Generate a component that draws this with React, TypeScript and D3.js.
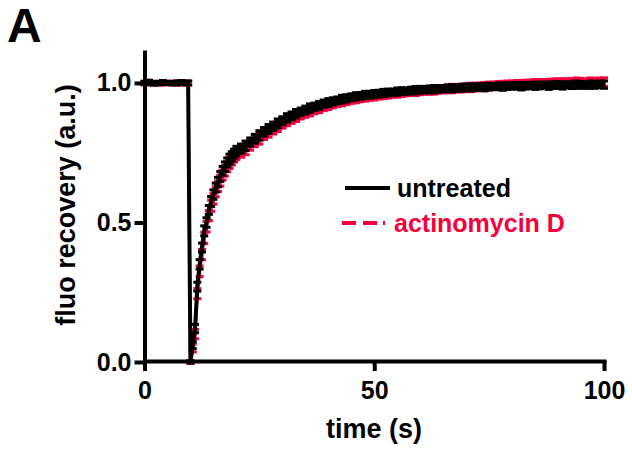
import * as d3 from "d3";
import React, { useEffect, useRef } from "react";

// time points (s)
const times = [
  0, 1, 2, 3, 4, 5, 6, 7, 8, 9, 9.5,
  10, 10.5, 11, 11.5, 12, 12.5, 13, 13.5, 14, 14.5, 15, 15.5, 16, 16.5, 17, 17.5, 18, 18.5, 19, 19.5, 20,
  21, 22, 23, 24, 25, 26, 27, 28, 29, 30,
  31, 32, 33, 34, 35, 36, 37, 38, 39, 40,
  41, 42, 43, 44, 45, 46, 47, 48, 49, 50,
  51, 52, 53, 54, 55, 56, 57, 58, 59, 60,
  61, 62, 63, 64, 65, 66, 67, 68, 69, 70,
  71, 72, 73, 74, 75, 76, 77, 78, 79, 80,
  81, 82, 83, 84, 85, 86, 87, 88, 89, 90,
  91, 92, 93, 94, 95, 96, 97, 98, 99, 100,
];

const untreated = [
  1.0, 1.003, 0.998, 1.0, 1.002, 1.0, 0.999, 1.0, 1.003, 1.0, 1.0,
  0.0, 0.06, 0.12, 0.27, 0.35, 0.41, 0.47, 0.5, 0.545, 0.575, 0.6, 0.625, 0.645, 0.665, 0.685, 0.7, 0.715, 0.727, 0.737, 0.747, 0.756,
  0.765, 0.775, 0.788, 0.8, 0.812, 0.825, 0.835, 0.845, 0.855, 0.865,
  0.875, 0.882, 0.89, 0.897, 0.903, 0.91, 0.915, 0.92, 0.926, 0.93,
  0.934, 0.938, 0.942, 0.945, 0.949, 0.952, 0.954, 0.957, 0.958, 0.96,
  0.962, 0.964, 0.966, 0.967, 0.969, 0.971, 0.971, 0.973, 0.974, 0.976,
  0.976, 0.977, 0.978, 0.979, 0.98, 0.981, 0.981, 0.982, 0.983, 0.984,
  0.984, 0.985, 0.986, 0.985, 0.987, 0.987, 0.988, 0.987, 0.989, 0.989,
  0.99, 0.988, 0.99, 0.991, 0.99, 0.991, 0.992, 0.99, 0.992, 0.993,
  0.991, 0.993, 0.992, 0.994, 0.993, 0.992, 0.994, 0.993, 0.995, 0.994,
];

const untreatedErr = [
  0.006, 0.007, 0.006, 0.006, 0.007, 0.006, 0.006, 0.007, 0.006, 0.006, 0.007,
  0.004, 0.012, 0.015, 0.016, 0.017, 0.016, 0.018, 0.017, 0.016, 0.018, 0.017, 0.016, 0.017, 0.018, 0.016, 0.017, 0.016, 0.018, 0.017, 0.016, 0.017,
  0.016, 0.017, 0.015, 0.016, 0.017, 0.015, 0.016, 0.015, 0.016, 0.014,
  0.015, 0.014, 0.015, 0.013, 0.014, 0.015, 0.013, 0.014, 0.013, 0.014,
  0.013, 0.012, 0.014, 0.013, 0.012, 0.013, 0.012, 0.013, 0.012, 0.013,
  0.012, 0.013, 0.012, 0.011, 0.013, 0.012, 0.011, 0.012, 0.013, 0.012,
  0.011, 0.012, 0.013, 0.012, 0.011, 0.012, 0.013, 0.011, 0.012, 0.012,
  0.013, 0.012, 0.011, 0.013, 0.012, 0.011, 0.012, 0.013, 0.012, 0.011,
  0.012, 0.013, 0.012, 0.011, 0.013, 0.012, 0.011, 0.013, 0.012, 0.012,
  0.013, 0.011, 0.012, 0.013, 0.012, 0.011, 0.013, 0.012, 0.012, 0.013,
];

const actinomycin = [
  1.0, 1.0, 1.0, 0.998, 1.0, 1.0, 1.0, 1.0, 0.998, 1.0, 1.0,
  0.0, 0.05, 0.1, 0.245, 0.325, 0.385, 0.445, 0.485, 0.525, 0.56, 0.585, 0.61, 0.63, 0.65, 0.67, 0.685, 0.7, 0.714, 0.725, 0.735, 0.745,
  0.752, 0.762, 0.776, 0.79, 0.8, 0.814, 0.824, 0.834, 0.844, 0.854,
  0.864, 0.871, 0.879, 0.886, 0.893, 0.899, 0.905, 0.91, 0.916, 0.921,
  0.926, 0.93, 0.934, 0.938, 0.941, 0.944, 0.947, 0.95, 0.952, 0.954,
  0.956, 0.959, 0.96, 0.962, 0.964, 0.966, 0.967, 0.969, 0.97, 0.972,
  0.973, 0.974, 0.975, 0.977, 0.978, 0.979, 0.98, 0.981, 0.982, 0.983,
  0.984, 0.985, 0.987, 0.987, 0.989, 0.99, 0.991, 0.991, 0.993, 0.994,
  0.995, 0.994, 0.996, 0.997, 0.997, 0.998, 0.999, 0.998, 1.0, 1.001,
  1.0, 1.002, 1.001, 1.003, 1.002, 1.001, 1.003, 1.002, 1.004, 1.003,
];

const actinomycinErr = [
  0.006, 0.007, 0.006, 0.006, 0.007, 0.006, 0.006, 0.007, 0.006, 0.006, 0.007,
  0.005, 0.014, 0.017, 0.018, 0.019, 0.018, 0.02, 0.019, 0.018, 0.02, 0.019, 0.018, 0.019, 0.02, 0.018, 0.019, 0.018, 0.02, 0.019, 0.018, 0.019,
  0.018, 0.019, 0.017, 0.018, 0.019, 0.017, 0.018, 0.017, 0.018, 0.016,
  0.017, 0.016, 0.017, 0.015, 0.016, 0.017, 0.015, 0.016, 0.015, 0.016,
  0.015, 0.014, 0.016, 0.015, 0.014, 0.015, 0.014, 0.015, 0.014, 0.015,
  0.014, 0.015, 0.014, 0.013, 0.015, 0.014, 0.013, 0.014, 0.015, 0.014,
  0.013, 0.014, 0.015, 0.014, 0.013, 0.014, 0.015, 0.013, 0.014, 0.014,
  0.015, 0.014, 0.013, 0.015, 0.014, 0.013, 0.014, 0.015, 0.014, 0.013,
  0.014, 0.015, 0.014, 0.013, 0.015, 0.014, 0.013, 0.015, 0.014, 0.014,
  0.015, 0.013, 0.014, 0.015, 0.014, 0.013, 0.015, 0.014, 0.014, 0.015,
];

const yTicks = [0, 0.5, 1.0];
const xTicks = [0, 50, 100];

const RED = "#f5003d";
const FONT = "'Liberation Sans', Arial, sans-serif";

const FrapChart = () => {
  const ref = useRef(null);

  useEffect(() => {
    const width = 632;
    const height = 455;
    const svg = d3.select(ref.current).attr("width", width).attr("height", height);
    svg.selectAll("*").remove();

    const x = d3.scaleLinear().domain([0, 100]).range([144.5, 604]);
    const y = d3.scaleLinear().domain([0, 1.111]).range([362, 52]);

    // panel letter
    svg
      .append("text")
      .attr("x", 7)
      .attr("y", 42)
      .style("font-family", FONT)
      .style("font-weight", "bold")
      .style("font-size", "48px")
      .text("A");

    // series: red first so black sits on top
    const series = [
      { vals: actinomycin, err: actinomycinErr, color: RED, lw: 3 },
      { vals: untreated, err: untreatedErr, color: "#000", lw: 4 },
    ];

    const line = d3
      .line<number>()
      .x((d, i) => x(times[i]))
      .y((d) => y(d));

    series.forEach((s) => {
      const g = svg.append("g");
      g.append("path")
        .attr("d", line(s.vals))
        .attr("fill", "none")
        .attr("stroke", s.color)
        .attr("stroke-width", s.lw);

      const bars = g
        .selectAll("g.eb")
        .data(s.vals)
        .enter()
        .append("g")
        .attr("class", "eb")
        .attr("stroke", s.color)
        .attr("stroke-width", 3);
      bars
        .append("line")
        .attr("x1", (d, i) => x(times[i]))
        .attr("x2", (d, i) => x(times[i]))
        .attr("y1", (d, i) => y(d - s.err[i]))
        .attr("y2", (d, i) => y(d + s.err[i]));
      [1, -1].forEach((sign) => {
        bars
          .append("line")
          .attr("x1", (d, i) => x(times[i]) - 4)
          .attr("x2", (d, i) => x(times[i]) + 4)
          .attr("y1", (d, i) => y(d + sign * s.err[i]))
          .attr("y2", (d, i) => y(d + sign * s.err[i]));
      });
    });

    // axes
    const yAxis = svg
      .append("g")
      .attr("transform", "translate(144.5,0)")
      .call(
        d3
          .axisLeft(y)
          .tickValues(yTicks)
          .tickFormat(d3.format(".1f"))
          .tickSize(10)
          .tickSizeOuter(0)
          .tickPadding(3)
      );
    const xAxis = svg
      .append("g")
      .attr("transform", "translate(0,361)")
      .call(
        d3
          .axisBottom(x)
          .tickValues(xTicks)
          .tickFormat(d3.format("d"))
          .tickSize(10)
          .tickSizeOuter(0)
          .tickPadding(10)
      );
    [yAxis, xAxis].forEach((ax) => {
      ax.select(".domain").attr("stroke-width", 4).attr("stroke-linecap", "square");
      ax.selectAll(".tick line").attr("stroke-width", 4);
      ax.selectAll(".tick text")
        .attr("fill", "#000")
        .style("font-family", FONT)
        .style("font-weight", "bold")
        .style("font-size", "25px");
    });

    // axis titles
    svg
      .append("text")
      .attr("x", 374)
      .attr("y", 438)
      .attr("text-anchor", "middle")
      .style("font-family", FONT)
      .style("font-weight", "bold")
      .style("font-size", "27px")
      .text("time (s)");
    svg
      .append("text")
      .attr("transform", "translate(75,205) rotate(-90)")
      .attr("text-anchor", "middle")
      .style("font-family", FONT)
      .style("font-weight", "bold")
      .style("font-size", "27px")
      .text("fluo recovery (a.u.)");

    // legend
    svg
      .append("line")
      .attr("x1", 345)
      .attr("x2", 390)
      .attr("y1", 188)
      .attr("y2", 188)
      .attr("stroke", "#000")
      .attr("stroke-width", 4);
    svg
      .append("text")
      .attr("x", 397)
      .attr("y", 197)
      .style("font-family", FONT)
      .style("font-weight", "bold")
      .style("font-size", "25px")
      .text("untreated");
    svg
      .append("line")
      .attr("x1", 342)
      .attr("x2", 388)
      .attr("y1", 223)
      .attr("y2", 223)
      .attr("stroke", RED)
      .attr("stroke-width", 4)
      .attr("stroke-dasharray", "14,7,14,6,2,10");
    svg
      .append("text")
      .attr("x", 394)
      .attr("y", 232)
      .attr("fill", RED)
      .style("font-family", FONT)
      .style("font-weight", "bold")
      .style("font-size", "25px")
      .text("actinomycin D");
  }, []);

  return <svg ref={ref} style={{ position: "absolute", left: 0, top: 0 }}></svg>;
};

export default function App() {
  return <FrapChart />;
}
